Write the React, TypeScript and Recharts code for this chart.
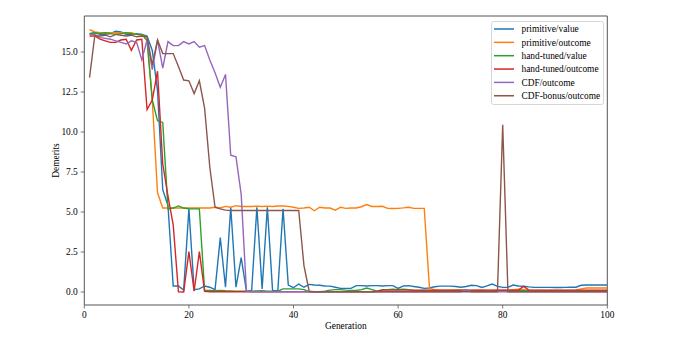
import React from 'react';
import { LineChart, Line, XAxis, YAxis, ReferenceLine, Legend, Label } from 'recharts';

const generations = Array.from({ length: 100 }, (_, i) => i + 1);

const primitiveValue = [
  16.15, 16.2, 16.1, 16.1, 16.15, 16.3, 16.25, 16.1, 16.1, 16.15,
  16.1, 16.0, 15.1, 12.6, 6.4, 5.4, 0.38, 0.38, 0.12, 5.2,
  0.15, 0.2, 0.38, 0.3, 0.15, 3.4, 0.3, 5.3, 0.3, 2.15,
  0.06, 0.1, 5.3, 0.2, 5.3, 0.08, 0.08, 5.2, 0.44, 0.27,
  0.5, 0.3, 0.48, 0.44, 0.42, 0.38, 0.37, 0.3, 0.23, 0.23,
  0.23, 0.4, 0.4, 0.38, 0.4, 0.4, 0.38, 0.4, 0.4, 0.23,
  0.38, 0.4, 0.35, 0.3, 0.23, 0.25, 0.33, 0.37, 0.37, 0.37,
  0.35, 0.3, 0.35, 0.42, 0.4, 0.29, 0.38, 0.5, 0.35, 0.29,
  0.3, 0.44, 0.38, 0.36, 0.32, 0.29, 0.29, 0.29, 0.29, 0.28,
  0.28, 0.29, 0.3, 0.3, 0.42, 0.44, 0.44, 0.44, 0.44, 0.44,
];

const primitiveOutcome = [
  16.4, 16.25, 16.2, 16.2, 16.2, 16.2, 16.2, 16.2, 16.2, 16.1,
  16.05, 15.9, 12.0, 6.2, 5.25, 5.25, 5.25, 5.25, 5.25, 5.25,
  5.25, 5.25, 5.25, 5.25, 5.3, 5.25, 5.35, 5.3, 5.4, 5.35,
  5.35, 5.35, 5.37, 5.35, 5.37, 5.35, 5.38, 5.38, 5.35, 5.3,
  5.23, 5.25, 5.3, 5.08, 5.3, 5.25, 5.25, 5.12, 5.3, 5.23,
  5.25, 5.25, 5.33, 5.47, 5.35, 5.35, 5.36, 5.23, 5.22, 5.23,
  5.26, 5.3, 5.23, 5.23, 5.23, 0.23, 0.15, 0.12, 0.12, 0.12,
  0.12, 0.12, 0.1, 0.1, 0.12, 0.12, 0.1, 0.1, 0.12, 0.12,
  0.12, 0.15, 0.17, 0.15, 0.12, 0.1, 0.1, 0.1, 0.1, 0.1,
  0.1, 0.1, 0.1, 0.12, 0.2, 0.25, 0.25, 0.25, 0.25, 0.25,
];

const handTunedValue = [
  16.15, 16.2, 16.15, 16.2, 16.15, 16.1, 16.15, 16.2, 16.15, 16.1,
  16.1, 15.7, 12.0, 10.7, 10.6, 5.2, 5.25, 5.38, 5.25, 5.2,
  5.2, 5.2, 0.1, 0.1, 0.08, 0.1, 0.08, 0.07, 0.06, 0.05,
  0.05, 0.06, 0.07, 0.08, 0.06, 0.05, 0.05, 0.2, 0.2, 0.2,
  0.2, 0.15, 0.02, 0.02, 0.02, 0.05, 0.12, 0.15, 0.15, 0.12,
  0.1, 0.1, 0.15, 0.25, 0.15, 0.05, 0.15, 0.15, 0.18, 0.15,
  0.18, 0.15, 0.1, 0.08, 0.1, 0.08, 0.08, 0.08, 0.08, 0.08,
  0.1, 0.1, 0.1, 0.08, 0.08, 0.08, 0.08, 0.08, 0.08, 0.08,
  0.08, 0.08, 0.08, 0.08, 0.08, 0.08, 0.08, 0.08, 0.08, 0.08,
  0.08, 0.08, 0.08, 0.08, 0.08, 0.08, 0.08, 0.08, 0.08, 0.08,
];

const handTunedOutcome = [
  16.0, 16.0, 15.8, 15.7, 15.6, 15.6, 15.75, 15.8, 15.1, 15.75,
  15.8, 11.4, 12.0, 13.8, 8.0, 6.0, 4.2, 0.02, 0.0, 2.52,
  0.05, 2.52, 0.05, 0.02, 0.02, 0.02, 0.02, 0.02, 0.02, 0.02,
  0.02, 0.02, 0.02, 0.02, 0.02, 0.02, 0.02, 0.02, 0.02, 0.02,
  0.02, 0.02, 0.02, 0.02, 0.02, 0.02, 0.02, 0.02, 0.02, 0.02,
  0.02, 0.02, 0.02, 0.02, 0.02, 0.05, 0.12, 0.12, 0.12, 0.12,
  0.12, 0.12, 0.12, 0.12, 0.12, 0.12, 0.12, 0.12, 0.12, 0.12,
  0.12, 0.12, 0.12, 0.12, 0.12, 0.12, 0.12, 0.12, 0.12, 0.12,
  0.12, 0.12, 0.12, 0.35, 0.12, 0.12, 0.12, 0.12, 0.12, 0.12,
  0.12, 0.12, 0.12, 0.12, 0.12, 0.12, 0.12, 0.12, 0.12, 0.12,
];

const cdfOutcome = [
  16.1, 16.1, 15.9, 15.85, 15.8, 15.7, 15.6, 15.5, 15.7, 15.6,
  14.5, 15.75, 13.9, 15.75, 14.0, 15.65, 15.4, 15.4, 15.65, 15.5,
  15.65, 15.3, 15.4, 14.5, 13.7, 12.8, 13.6, 8.55, 8.45, 6.1,
  0.05, 0.02, 0.02, 0.02, 0.02, 0.02, 0.02, 0.02, 0.02, 0.02,
  0.02, 0.02, 0.02, 0.02, 0.02, 0.02, 0.02, 0.02, 0.02, 0.02,
  0.02, 0.02, 0.02, 0.02, 0.02, 0.02, 0.02, 0.02, 0.02, 0.02,
  0.02, 0.02, 0.02, 0.02, 0.02, 0.02, 0.02, 0.02, 0.02, 0.02,
  0.02, 0.02, 0.15, 0.02, 0.02, 0.02, 0.02, 0.02, 0.02, 0.02,
  0.02, 0.02, 0.02, 0.02, 0.02, 0.02, 0.02, 0.02, 0.02, 0.02,
  0.02, 0.02, 0.02, 0.02, 0.02, 0.02, 0.02, 0.02, 0.02, 0.02,
];

const cdfBonusOutcome = [
  13.4, 16.0, 16.0, 16.05, 15.95, 16.1, 16.05, 16.0, 16.05, 15.95,
  16.0, 15.95, 14.2, 15.75, 14.9, 14.9, 14.9, 14.1, 13.25, 13.2,
  12.4, 13.2, 11.5, 7.8, 5.3, 5.2, 5.12, 5.1, 5.1, 5.1,
  5.1, 5.1, 5.1, 5.1, 5.1, 5.1, 5.1, 5.1, 5.1, 5.1,
  5.1, 1.65, 0.05, 0.02, 0.02, 0.02, 0.02, 0.02, 0.02, 0.02,
  0.02, 0.02, 0.02, 0.02, 0.02, 0.02, 0.02, 0.02, 0.02, 0.02,
  0.02, 0.02, 0.02, 0.02, 0.02, 0.02, 0.02, 0.02, 0.02, 0.02,
  0.02, 0.02, 0.02, 0.02, 0.02, 0.02, 0.02, 0.02, 0.02, 10.45,
  0.02, 0.02, 0.02, 0.02, 0.02, 0.02, 0.02, 0.02, 0.02, 0.02,
  0.02, 0.02, 0.02, 0.02, 0.02, 0.02, 0.02, 0.02, 0.02, 0.02,
];

const seriesNames = [
  'primitive/value',
  'primitive/outcome',
  'hand-tuned/value',
  'hand-tuned/outcome',
  'CDF/outcome',
  'CDF-bonus/outcome',
];
const seriesColors = ['#1f77b4', '#ff7f0e', '#2ca02c', '#d62728', '#9467bd', '#8c564b'];
const seriesValues = [
  primitiveValue,
  primitiveOutcome,
  handTunedValue,
  handTunedOutcome,
  cdfOutcome,
  cdfBonusOutcome,
];

const xTicks = [0, 20, 40, 60, 80, 100];
const yTicks = [0, 2.5, 5, 7.5, 10, 12.5, 15];

const data = generations.map((g, i) => {
  const row: Record<string, number> = { g };
  seriesValues.forEach((vals, k) => {
    row['s' + k] = vals[i];
  });
  return row;
});

const FONT = "Liberation Serif, Tinos, Times New Roman, DejaVu Serif, serif";
const SPINE = '#555';
const Y_MIN = -0.81;
const Y_MAX = 17.25;

const textStyle = { fontSize: 9.4, fontFamily: FONT, fill: '#000' };

const LegendBox = () => (
  <svg width={113} height={84} style={{ display: 'block' }}>
    <rect x={0.5} y={0.5} width={112} height={83} rx={2} ry={2} fill="#fff" fillOpacity={0.8} stroke="#d6d6d6" />
    {seriesNames.map((name, k) => {
      const cy = 8 + k * 13.35;
      return (
        <g key={name}>
          <line x1={3} x2={23} y1={cy} y2={cy} stroke={seriesColors[k]} strokeWidth={1.5} />
          <text x={30.5} y={cy + 3.2} style={textStyle}>
            {name}
          </text>
        </g>
      );
    })}
  </svg>
);

export default function App() {
  return (
    <div style={{ position: 'absolute', left: 0, top: 0, width: 675, height: 339, background: '#fff', fontFamily: FONT }}>
      <LineChart
        width={675}
        height={339}
        data={data}
        margin={{ top: 16, right: 67.7, bottom: 4, left: 24.3 }}
        style={{ fontFamily: FONT }}
      >
        <XAxis
          dataKey="g"
          type="number"
          domain={[0, 100]}
          ticks={xTicks}
          allowDataOverflow
          height={30}
          tickSize={3.5}
          tickMargin={2.5}
          axisLine={{ stroke: SPINE, strokeWidth: 1 }}
          tickLine={{ stroke: SPINE, strokeWidth: 0.8 }}
          tick={{ ...textStyle, style: textStyle }}
        >
          <Label value="Generation" position="insideBottom" offset={6} style={textStyle} />
        </XAxis>
        <YAxis
          type="number"
          domain={[Y_MIN, Y_MAX]}
          ticks={yTicks}
          allowDataOverflow
          width={60}
          tickSize={3.5}
          tickMargin={3}
          tickFormatter={(v: number) => v.toFixed(1)}
          axisLine={{ stroke: SPINE, strokeWidth: 1 }}
          tickLine={{ stroke: SPINE, strokeWidth: 0.8 }}
          tick={{ ...textStyle, style: textStyle }}
        >
          <Label
            value="Demerits"
            angle={-90}
            position="insideLeft"
            offset={31}
            style={{ ...textStyle, textAnchor: 'middle' }}
          />
        </YAxis>
        <ReferenceLine y={Y_MAX} stroke={SPINE} strokeWidth={1} ifOverflow="visible" />
        <ReferenceLine x={100} stroke={SPINE} strokeWidth={1} ifOverflow="visible" />
        {seriesNames.map((name, k) => (
          <Line
            key={name}
            name={name}
            dataKey={'s' + k}
            type="linear"
            stroke={seriesColors[k]}
            strokeWidth={1.4}
            dot={false}
            activeDot={false}
            isAnimationActive={false}
          />
        ))}
        <Legend
          layout="vertical"
          align="center"
          verticalAlign="middle"
          content={() => <LegendBox />}
          wrapperStyle={{ position: 'absolute', left: 490.5, top: 21, width: 113, height: 84 }}
        />
      </LineChart>
    </div>
  );
}
